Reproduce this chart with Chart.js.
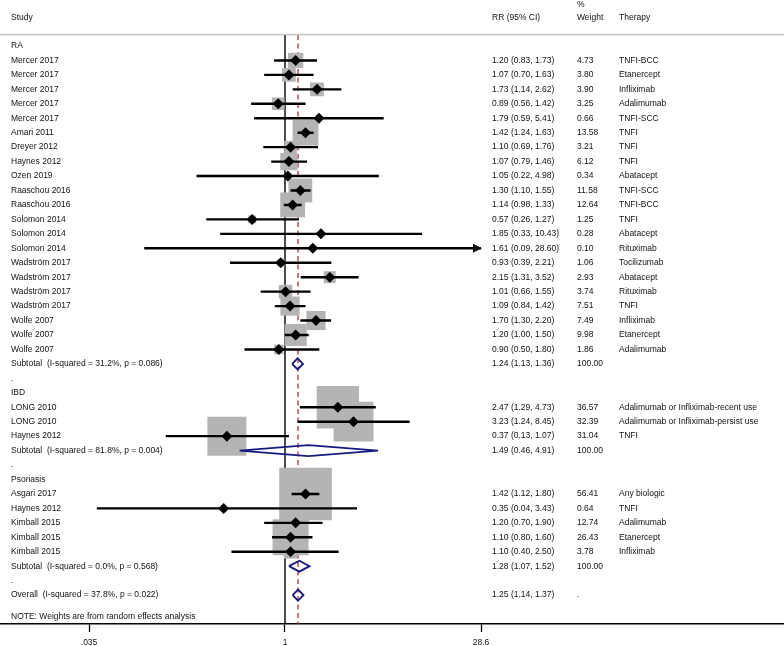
<!DOCTYPE html>
<html><head><meta charset="utf-8">
<script src="https://cdn.jsdelivr.net/npm/chart.js@4/dist/chart.umd.min.js"></script>
<style>html,body{margin:0;padding:0;background:#fff}canvas{display:block}</style>
</head><body>
<canvas id="c" width="784" height="646"></canvas>
<script>
// ---- data (one entry per row of the plot, top to bottom) ----
const studyLabels = [
  'RA','Mercer 2017','Mercer 2017','Mercer 2017','Mercer 2017','Mercer 2017','Amari 2011','Dreyer 2012','Haynes 2012','Ozen 2019',
  'Raaschou 2016','Raaschou 2016','Solomon 2014','Solomon 2014','Solomon 2014','Wadström 2017','Wadström 2017','Wadström 2017','Wadström 2017',
  'Wolfe 2007','Wolfe 2007','Wolfe 2007','Subtotal  (I-squared = 31.2%, p = 0.086)','.',
  'IBD','LONG 2010','LONG 2010','Haynes 2012','Subtotal  (I-squared = 81.8%, p = 0.004)','.',
  'Psoriasis','Asgari 2017','Haynes 2012','Kimball 2015','Kimball 2015','Kimball 2015','Subtotal  (I-squared = 0.0%, p = 0.568)','.',
  'Overall  (I-squared = 37.8%, p = 0.022)'
];
const rowKinds = [
  'group','study','study','study','study','study','study','study','study','study',
  'study','study','study','study','study','study','study','study','study',
  'study','study','study','subtotal','dot',
  'group','study','study','study','subtotal','dot',
  'group','study','study','study','study','study','subtotal','dot',
  'overall'
];
const rr = [
  null,1.20,1.07,1.73,0.89,1.79,1.42,1.10,1.07,1.05,
  1.30,1.14,0.57,1.85,1.61,0.93,2.15,1.01,1.09,
  1.70,1.20,0.90,1.24,null,
  null,2.47,3.23,0.37,1.49,null,
  null,1.42,0.35,1.20,1.10,1.10,1.28,null,
  1.25
];
const ciLow = [
  null,0.83,0.70,1.14,0.56,0.59,1.24,0.69,0.79,0.22,
  1.10,0.98,0.26,0.33,0.09,0.39,1.31,0.66,0.84,
  1.30,1.00,0.50,1.13,null,
  null,1.29,1.24,0.13,0.46,null,
  null,1.12,0.04,0.70,0.80,0.40,1.07,null,
  1.14
];
const ciHigh = [
  null,1.73,1.63,2.62,1.42,5.41,1.63,1.76,1.46,4.98,
  1.55,1.33,1.27,10.43,28.60,2.21,3.52,1.55,1.42,
  2.20,1.50,1.80,1.36,null,
  null,4.73,8.45,1.07,4.91,null,
  null,1.80,3.43,1.90,1.60,2.50,1.52,null,
  1.37
];
const weights = [
  null,4.73,3.80,3.90,3.25,0.66,13.58,3.21,6.12,0.34,
  11.58,12.64,1.25,0.28,0.10,1.06,2.93,3.74,7.51,
  7.49,9.98,1.86,100.00,null,
  null,36.57,32.39,31.04,100.00,null,
  null,56.41,0.64,12.74,26.43,3.78,100.00,null,
  null
];
const therapies = [
  '','TNFI-BCC','Etanercept','Infliximab','Adalimumab','TNFI-SCC','TNFI','TNFI','TNFI','Abatacept',
  'TNFI-SCC','TNFI-BCC','TNFI','Abatacept','Rituximab','Tocilizumab','Abatacept','Rituximab','TNFI',
  'Infliximab','Etanercept','Adalimumab','','',
  '','Adalimumab or Infliximab-recent use','Adalimumab or Infliximab-persist use','TNFI','','',
  '','Any biologic','TNFI','Adalimumab','Etanercept','Infliximab','','',
  ''
];
const tickValues = [0.035, 1, 28.6];
const tickLabels = ['.035', '1', '28.6'];
const overallRR = 1.25;
const noteText = 'NOTE: Weights are from random effects analysis';

// ---- derived datasets ----
const FONT = '8.5px "Liberation Sans", Arial, Helvetica, sans-serif';
const Y_TOP = -0.76, Y_BOTTOM = 40;
const isStudy = i => rowKinds[i] === 'study';
const isPooled = i => rowKinds[i] === 'subtotal' || rowKinds[i] === 'overall';

const boxData = [], boxRadius = [], markerData = [], ciData = [], diamondData = [];
studyLabels.forEach((_, i) => {
  if (isStudy(i)) {
    boxData.push({x: rr[i], y: i});
    boxRadius.push(4.95 * Math.sqrt(weights[i]));
    markerData.push({x: rr[i], y: i});
    ciData.push({x: ciLow[i], y: i}, {x: Math.min(ciHigh[i], tickValues[2]), y: i}, {x: null, y: null});
  } else if (isPooled(i)) {
    const h = 0.38;
    diamondData.push({x: ciLow[i], y: i}, {x: rr[i], y: i - h}, {x: ciHigh[i], y: i},
                     {x: rr[i], y: i + h}, {x: ciLow[i], y: i}, {x: null, y: null});
  }
});

const tablePlugin = {
  id: 'forestTable',
  afterDraw(chart) {
    const ctx = chart.ctx, ys = chart.scales.y, xs = chart.scales.x;
    ctx.save();
    ctx.font = FONT;
    ctx.fillStyle = '#111';
    ctx.textBaseline = 'middle';
    ctx.textAlign = 'left';
    // header
    ctx.fillText('Study', 11, 17.5);
    ctx.fillText('RR (95% CI)', 492, 18);
    ctx.fillText('%', 577, 4.5);
    ctx.fillText('Weight', 577, 18);
    ctx.fillText('Therapy', 619, 18);
    ctx.strokeStyle = '#c4c4c4';
    ctx.lineWidth = 1.5;
    ctx.beginPath(); ctx.moveTo(0, 34.5); ctx.lineTo(784, 34.5); ctx.stroke();
    // rows
    studyLabels.forEach((lab, i) => {
      const py = ys.getPixelForValue(i);
      ctx.fillText(lab, 11, py);
      if (rr[i] !== null) {
        ctx.fillText(rr[i].toFixed(2) + ' (' + ciLow[i].toFixed(2) + ', ' + ciHigh[i].toFixed(2) + ')', 492, py);
      }
      if (weights[i] !== null) ctx.fillText(weights[i].toFixed(2), 577, py);
      else if (rowKinds[i] === 'overall') ctx.fillText('.', 577, py);
      if (therapies[i]) ctx.fillText(therapies[i], 619, py);
      // arrow where CI runs past the axis
      if (isStudy(i) && ciHigh[i] >= tickValues[2]) {
        const px = xs.getPixelForValue(tickValues[2]);
        ctx.beginPath();
        ctx.moveTo(px + 1, py); ctx.lineTo(px - 8, py - 4.5); ctx.lineTo(px - 8, py + 4.5); ctx.closePath();
        ctx.fill();
      }
    });
    ctx.fillText(noteText, 11, ys.getPixelForValue(39.5));
    ctx.restore();
  }
};

new Chart(document.getElementById('c'), {
  type: 'line',
  data: {
    datasets: [
      { label: 'null', data: [{x: 1, y: Y_TOP}, {x: 1, y: Y_BOTTOM}], borderColor: '#000', borderWidth: 1.4,
        pointRadius: 0, order: 7 },
      { label: 'overall', data: [{x: overallRR, y: Y_TOP}, {x: overallRR, y: Y_BOTTOM}], borderColor: '#a8343f', borderWidth: 1.3,
        borderDash: [5, 3.5], pointRadius: 0, order: 6 },
      { label: 'boxes', data: boxData, showLine: false, pointStyle: 'rect', pointRadius: boxRadius,
        backgroundColor: '#b4b4b4', borderWidth: 0, order: 5 },
      { label: 'ci', data: ciData, borderColor: '#000', borderWidth: 2.4, pointRadius: 0, spanGaps: false, order: 4 },
      { label: 'est', data: markerData, showLine: false, pointStyle: 'rectRot', pointRadius: 5.5,
        backgroundColor: '#000', borderColor: '#000', borderWidth: 0, order: 3 },
      { label: 'pooled', data: diamondData, borderColor: '#161a7e', borderWidth: 1.9, pointRadius: 0,
        spanGaps: false, borderJoinStyle: 'miter', fill: false, order: 2 }
    ]
  },
  options: {
    responsive: false,
    animation: false,
    events: [],
    devicePixelRatio: 1,
    layout: { autoPadding: false, padding: { top: 35, left: 0, right: 0, bottom: 0 } },
    plugins: { legend: { display: false }, tooltip: { enabled: false } },
    scales: {
      x: {
        type: 'logarithmic', position: 'bottom', min: 0.00763, max: 5100,
        afterBuildTicks: s => { s.ticks = tickValues.map(v => ({value: v})); },
        afterFit: s => { s.height = 22; },
        ticks: { callback: (v, i) => tickLabels[i], autoSkip: false, maxRotation: 0, padding: 6,
                 color: '#111', font: { family: '"Liberation Sans", Arial, sans-serif', size: 8.5 } },
        grid: { drawOnChartArea: false, drawTicks: true, tickLength: 8, tickColor: '#000', tickWidth: 1.3 },
        border: { display: true, color: '#000', width: 1.5 }
      },
      y: { type: 'linear', reverse: true, min: Y_TOP, max: Y_BOTTOM, display: false }
    }
  },
  plugins: [tablePlugin]
});
</script>
</body></html>
